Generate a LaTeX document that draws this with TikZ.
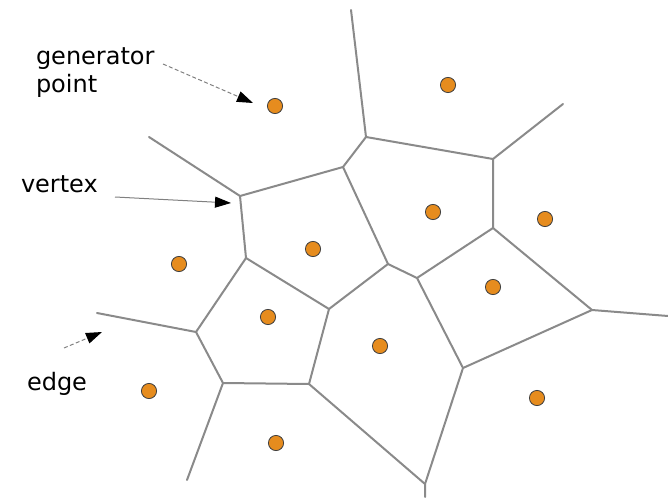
\documentclass[tikz,border=0pt]{standalone}
\usepackage{fontspec}
\setmainfont{DejaVu Sans}
\usetikzlibrary{arrows.meta}

\definecolor{edgegray}{RGB}{138,138,138}
\definecolor{siteorange}{RGB}{230,140,30}

\begin{document}
\begin{tikzpicture}[x=0.5pt, y=-0.5pt, line width=1pt,
    site/.style={circle, draw=black!75, fill=siteorange, line width=0.4pt, inner sep=0pt, minimum size=7.6pt},
    cell/.style={color=edgegray, line width=1pt, line cap=round, line join=round},
    pointer/.style={color=gray, line width=0.5pt, -{Triangle[length=8pt, width=5.5pt, color=black]}},
    note/.style={font=\fontsize{12}{14}\selectfont, align=left, anchor=base west, inner sep=0pt}]

    \useasboundingbox (0, 0) rectangle (668, 497);

    % vertices of the cells
    \coordinate (vA) at (240, 196);
    \coordinate (vB) at (343, 167);
    \coordinate (vC) at (366, 137);
    \coordinate (vD) at (493, 159);
    \coordinate (vE) at (493, 228);
    \coordinate (vF) at (246, 258);
    \coordinate (vG) at (388, 264);
    \coordinate (vH) at (417, 278);
    \coordinate (vI) at (329, 309);
    \coordinate (vJ) at (196, 332);
    \coordinate (vK) at (223, 383);
    \coordinate (vL) at (309, 384);
    \coordinate (vM) at (425, 484);
    \coordinate (vN) at (463, 368);
    \coordinate (vO) at (592, 310);

    % open ends of the outer edges
    \coordinate (eA) at (149, 137);
    \coordinate (eC) at (351, 10);
    \coordinate (eD) at (563, 104);
    \coordinate (eJ) at (97, 313);
    \coordinate (eK) at (187, 480);
    \coordinate (eM) at (425, 497);
    \coordinate (eO) at (668, 316);

    % draw edges
    \draw[cell] (eA) -- (vA) -- (vB) -- (vC) -- (eC);
    \draw[cell] (vC) -- (vD) -- (eD);
    \draw[cell] (vD) -- (vE) -- (vH) -- (vG) -- (vB);
    \draw[cell] (vA) -- (vF) -- (vI) -- (vG);
    \draw[cell] (vF) -- (vJ) -- (eJ);
    \draw[cell] (vJ) -- (vK) -- (eK);
    \draw[cell] (vK) -- (vL) -- (vI);
    \draw[cell] (vL) -- (vM) -- (eM);
    \draw[cell] (vH) -- (vN) -- (vM);
    \draw[cell] (vN) -- (vO) -- (eO);
    \draw[cell] (vE) -- (vO);

    % draw generator points
    \node[site] (s1)  at (275, 106) {};
    \node[site] (s2)  at (448, 85)  {};
    \node[site] (s3)  at (433, 212) {};
    \node[site] (s4)  at (545, 219) {};
    \node[site] (s5)  at (313, 249) {};
    \node[site] (s6)  at (179, 264) {};
    \node[site] (s7)  at (493, 287) {};
    \node[site] (s8)  at (268, 317) {};
    \node[site] (s9)  at (380, 346) {};
    \node[site] (s10) at (149, 391) {};
    \node[site] (s11) at (537, 398) {};
    \node[site] (s12) at (276, 443) {};

    % draw labels
    \node[note] (gen)    at (35, 93)  {generator\\point};
    \node[note] (vertex) at (20, 192) {vertex};
    \node[note] (edge)   at (26, 390) {edge};

    % draw pointers
    \coordinate (genfrom) at (163, 64);
    \coordinate (gento) at (253, 103);
    \coordinate (vertexfrom) at (115, 197);
    \coordinate (vertexto) at (231, 203);
    \coordinate (edgefrom) at (64, 348);
    \coordinate (edgeto) at (102, 332);

    \draw[pointer, dash pattern=on 2pt off 1.2pt] (genfrom) -- (gento);
    \draw[pointer] (vertexfrom) -- (vertexto);
    \draw[pointer, dash pattern=on 2pt off 1.2pt] (edgefrom) -- (edgeto);

\end{tikzpicture}
\end{document}
